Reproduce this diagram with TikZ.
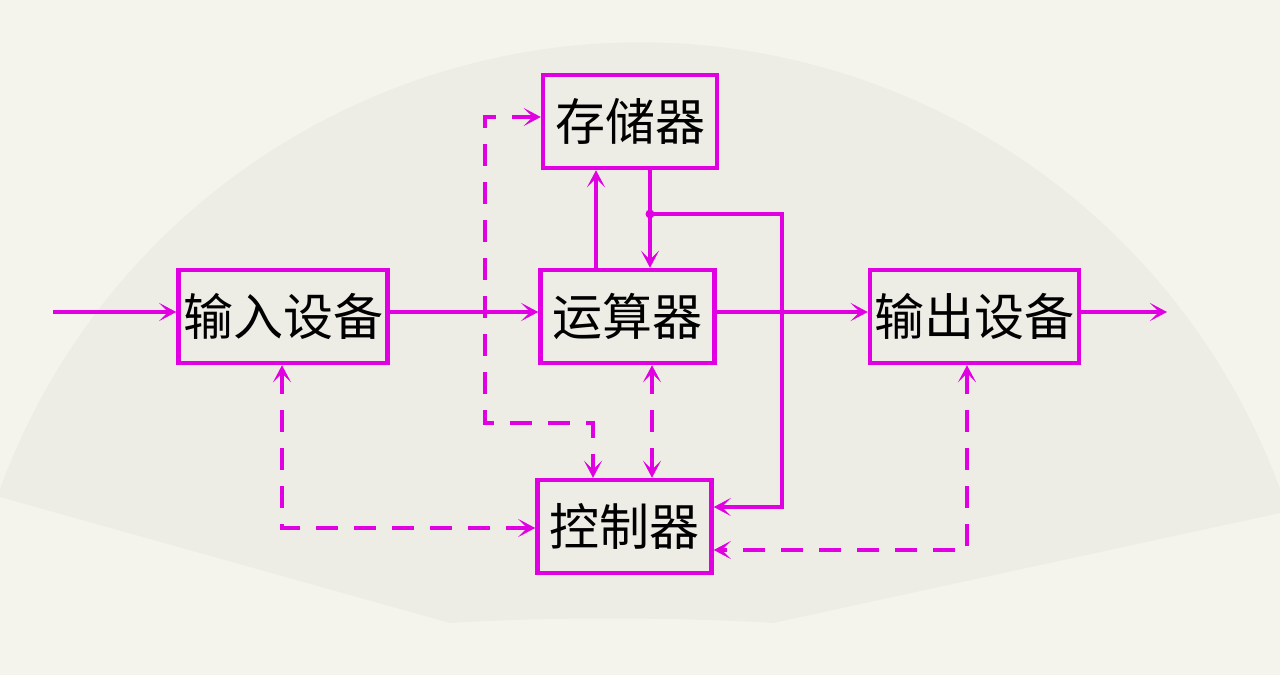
\documentclass[tikz,border=0pt]{standalone}
\usepackage{fontspec}
\newfontfamily\cjk{Noto Sans CJK SC}
\usetikzlibrary{arrows.meta}
\definecolor{bgpaper}{RGB}{244,244,237}
\definecolor{fanpaper}{RGB}{237,237,229}
\definecolor{wire}{RGB}{225,0,225}
\begin{document}
\begin{tikzpicture}[x=1pt,y=1pt,
  unit/.style={draw=wire, line width=4.5pt, minimum height=93pt, inner sep=0pt,
    font=\cjk\fontsize{50}{54}\selectfont, text=black},
  narrow/.style={unit, minimum width=174pt},
  wide/.style={unit, minimum width=209pt},
  headtip/.style={-{Stealth[length=17pt,width=18pt,inset=9pt]}},
  bothtips/.style={{Stealth[length=17pt,width=18pt,inset=9pt]}-{Stealth[length=17pt,width=18pt,inset=9pt]}},
  flow/.style={draw=wire, line width=4pt, headtip},
  ctrl/.style={draw=wire, line width=4.5pt, dash pattern=on 22pt off 16pt, bothtips},
]
\useasboundingbox (0,0) rectangle (1280,675);
% paper and fan-shaped backdrop
\fill[bgpaper] (0,0) rectangle (1280,675);
\fill[fanpaper] (0,178) -- (0,186) arc[start angle=159.8, end angle=20.2, radius=682]
  -- (1280,162) -- (773,52) .. controls (680,58) and (540,58) .. (450,52) -- cycle;

% units
\node[narrow] (mem)  at (630,553.5)   {存储器};
\node[narrow] (alu)  at (627.5,358.5) {运算器};
\node[wide]   (inp)  at (283,358.5)   {输入设备};
\node[wide]   (outp) at (974.5,358.5) {输出设备};
\node[narrow] (ctl)  at (624.5,148.5) {控制器};

% data path
\coordinate (src) at (53,363);
\coordinate (snk) at (1167,363);
\draw[flow] (src) -- (src -| inp.west);
\draw[flow] (inp.east |- src) -- (alu.west |- src);
\draw[flow] (alu.east |- src) -- (outp.west |- src);
\draw[flow] (outp.east |- src) -- (snk);

\coordinate (upx) at (596,0);
\coordinate (dnx) at (650,0);
\draw[flow] (alu.north -| upx) -- (mem.south -| upx);
\draw[flow] (mem.south -| dnx) -- (alu.north -| dnx);

% instruction path to the controller
\coordinate (tap)  at (650,461);
\coordinate (bend) at (782,168);
\draw[flow] (tap) -| (bend) -- (bend -| ctl.east);
\fill[wire] (tap) circle (4.5);

% control signals
\coordinate (a1) at (485,558);
\coordinate (a2) at (485,252);
\coordinate (a3) at (593,252);
\draw[ctrl] (a1 -| mem.west) -- (a1) -- (a2) -- (a3) -- (a3 |- ctl.north);

\coordinate (mx) at (652,0);
\draw[ctrl] (alu.south -| mx) -- (ctl.north -| mx);

\coordinate (b1) at (282,147);
\draw[ctrl] (inp.south -| b1) -- (b1) -- (b1 -| ctl.west);

\coordinate (c1) at (967,125);
\draw[ctrl] (outp.south -| c1) -- (c1) -- (c1 -| ctl.east);
\end{tikzpicture}
\end{document}
